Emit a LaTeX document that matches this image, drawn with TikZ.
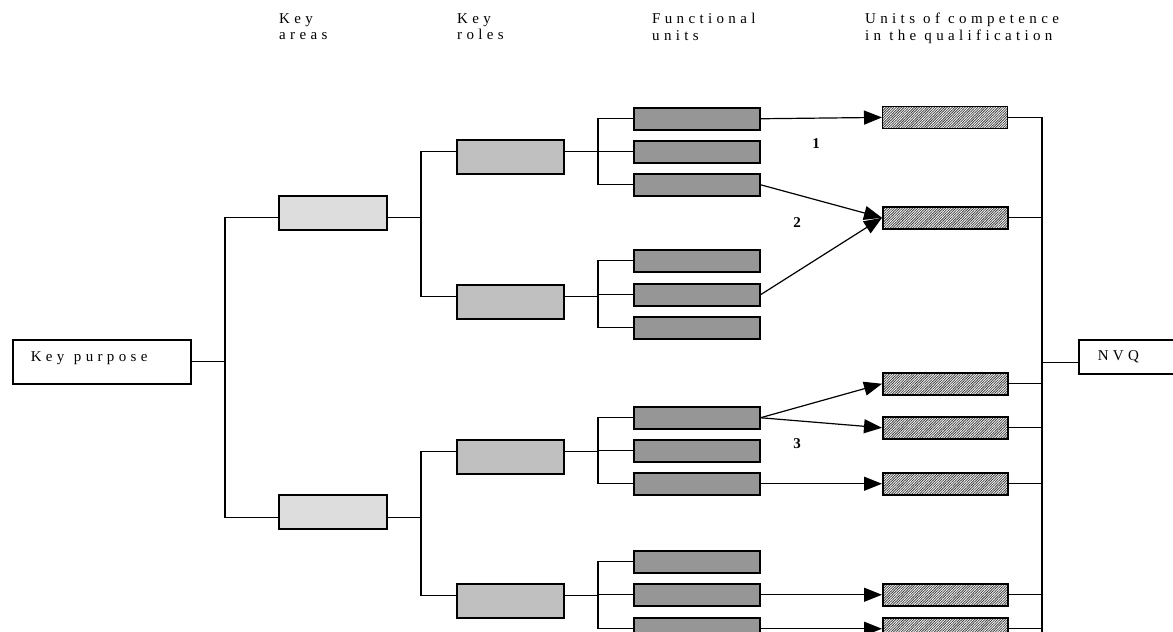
\documentclass[tikz,border=0pt]{standalone}
\usepackage{fontspec}
\setmainfont{Liberation Serif}
\usetikzlibrary{arrows.meta,patterns.meta}
\definecolor{areagray}{HTML}{DDDDDD}
\definecolor{rolegray}{HTML}{C0C0C0}
\definecolor{funcgray}{HTML}{969696}
\newcommand\lsp{\addfontfeature{LetterSpace=29}}
\tikzset{
  hdr/.style={anchor=north west, inner sep=0pt, align=left, font=\fontsize{15}{16.5}\selectfont\lsp},
  box/.style={draw=black, line width=1.5pt, inner sep=0pt, anchor=north west},
  areabox/.style={box, fill=areagray, minimum width=108pt, minimum height=34pt},
  rolebox/.style={box, fill=rolegray, minimum width=107pt, minimum height=34pt},
  funcbox/.style={box, fill=funcgray, minimum width=126pt, minimum height=22pt},
  unitbox/.style={box, preaction={fill=white}, pattern={Lines[angle=45,distance=1.8pt,line width=0.8pt]}, pattern color=black!75, minimum width=125pt, minimum height=22pt},
  conn/.style={draw=black, line width=1.2pt},
  arr/.style={conn, -{Triangle[length=18pt,width=14pt]}},
  lbl/.style={font=\fontsize{15}{15}\selectfont\bfseries, inner sep=0pt}
}
\begin{document}
\begin{tikzpicture}[x=1pt,y=-1pt]
\useasboundingbox (0,0) rectangle (1173,632);
\clip (0,0) rectangle (1173,632);
% headers
\node[hdr] (hA) at (279,13) {Key\\areas};
\node[hdr] (hR) at (457,13) {Key\\roles};
\node[hdr] (hF) at (652,13) {Functional\\units};
\node[hdr] (hU) at (865,13) {Units of competence\\in the qualification};
% key purpose and NVQ
\node[box, fill=white, inner xsep=18pt, inner ysep=0pt, text width=142pt, align=left, text height=22pt, text depth=22pt, font=\fontsize{15}{15}\selectfont\lsp] (kp) at (12,339) {Key\hspace{0.3em} purpose};
\node[box, fill=white, inner xsep=19pt, inner ysep=0pt, text width=90pt, align=left, text height=21pt, text depth=13pt, font=\fontsize{15}{15}\selectfont\lsp] (nvq) at (1078,339) {NVQ};
% key areas
\node[areabox] (A1) at (278,195) {};
\node[areabox] (A2) at (278,494) {};
% key roles
\node[rolebox] (R1) at (456,139) {};
\node[rolebox] (R2) at (456,284) {};
\node[rolebox] (R3) at (456,439) {};
\node[rolebox] (R4) at (456,583) {};
% functional units
\foreach \n/\y in {1/107,2/140,3/173,4/249,5/283,6/316,7/406,8/439,9/472,10/550,11/583,12/617}
  \node[funcbox] (F\n) at (633,\y) {};
% units of competence
\foreach \n/\y in {1/106,2/206,3/372,4/416,5/472,6/583,7/617}
  \node[unitbox] (U\n) at (882,\y) {};
% bus coordinates
\coordinate (b0) at (225,0);
\coordinate (b1) at (421,0);
\coordinate (b2) at (598,0);
\coordinate (b3) at (1042,0);
\coordinate (b3bot) at (1042,645);
\coordinate (a1w) at ([yshift=-5pt]A1.west);
\coordinate (a1e) at ([yshift=-5pt]A1.east);
\coordinate (a2w) at ([yshift=-6pt]A2.west);
\coordinate (a2e) at ([yshift=-6pt]A2.east);
\foreach \n in {1,2,3,4}{
  \coordinate (r\n w) at ([yshift=5pt]R\n.west);
  \coordinate (r\n e) at ([yshift=5pt]R\n.east);
}
\coordinate (nvqw) at ([yshift=-6pt]nvq.west);
% tree connectors
\draw[conn] (kp.east) -- (kp.east -| b0);
\draw[conn] (a1w) -- (a1w -| b0) -- (a2w -| b0) -- (a2w);
\draw[conn] (a1e) -- (a1e -| b1);
\draw[conn] (a2e) -- (a2e -| b1);
\draw[conn] (r1w) -- (r1w -| b1) -- (r2w -| b1) -- (r2w);
\draw[conn] (r3w) -- (r3w -| b1) -- (r4w -| b1) -- (r4w);
\foreach \r/\a/\b/\c in {1/1/2/3,2/4/5/6,3/7/8/9,4/10/11/12}{
  \draw[conn] (r\r e) -- (r\r e -| b2);
  \draw[conn] (F\a.west) -- (F\a.west -| b2) -- (F\c.west -| b2) -- (F\c.west);
  \draw[conn] (F\b.west) -- (F\b.west -| b2);
}
% right bus
\draw[conn] (U1.east) -- (U1.east -| b3) -- (b3bot);
\foreach \n in {2,3,4,5,6,7}
  \draw[conn] (U\n.east) -- (U\n.east -| b3);
\draw[conn] (nvqw -| b3) -- (nvqw);
% arrows
\draw[arr] (F1.east) -- (U1.west);
\draw[arr] (F3.east) -- (U2.west);
\draw[arr] (F5.east) -- (U2.west);
\draw[arr] (F7.east) -- (U3.west);
\draw[arr] (F7.east) -- (U4.west);
\draw[arr] (F9.east) -- (U5.west);
\draw[arr] (F11.east) -- (U6.west);
\draw[arr] (F12.east) -- (U7.west);
% labels
\node[lbl] (n1) at (816,144) {1};
\node[lbl] (n2) at (797,223) {2};
\node[lbl] (n3) at (797,444) {3};
\end{tikzpicture}
\end{document}
